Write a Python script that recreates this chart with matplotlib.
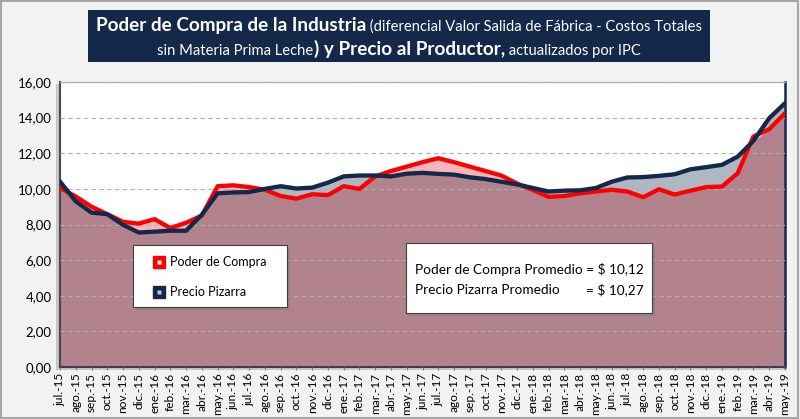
import matplotlib
matplotlib.use('Agg')
import matplotlib.pyplot as plt
import numpy as np
from matplotlib.patches import Rectangle
from matplotlib import font_manager

months = ['jul.-15', 'ago.-15', 'sep.-15', 'oct.-15', 'nov.-15', 'dic.-15',
          'ene.-16', 'feb.-16', 'mar.-16', 'abr.-16', 'may.-16', 'jun.-16',
          'jul.-16', 'ago.-16', 'sep.-16', 'oct.-16', 'nov.-16', 'dic.-16',
          'ene.-17', 'feb.-17', 'mar.-17', 'abr.-17', 'may.-17', 'jun.-17',
          'jul.-17', 'ago.-17', 'sep.-17', 'oct.-17', 'nov.-17', 'dic.-17',
          'ene.-18', 'feb.-18', 'mar.-18', 'abr.-18', 'may.-18', 'jun.-18',
          'jul.-18', 'ago.-18', 'sep.-18', 'oct.-18', 'nov.-18', 'dic.-18',
          'ene.-19', 'feb.-19', 'mar.-19', 'abr.-19', 'may.-19']

poder_compra = [10.05, 9.57, 9.00, 8.58, 8.15, 8.05, 8.30, 7.80, 8.10, 8.50,
                10.15, 10.20, 10.10, 9.95, 9.60, 9.45, 9.70, 9.65, 10.15, 10.00,
                10.70, 11.00, 11.25, 11.50, 11.72, 11.50, 11.25, 11.00, 10.75, 10.30,
                9.94, 9.55, 9.60, 9.75, 9.85, 9.95, 9.85, 9.53, 9.98, 9.68,
                9.90, 10.10, 10.13, 10.88, 12.94, 13.35, 14.25]

precio_pizarra = [10.41, 9.30, 8.67, 8.58, 7.98, 7.55, 7.60, 7.65, 7.65, 8.55,
                  9.75, 9.80, 9.82, 10.00, 10.15, 10.02, 10.07, 10.35, 10.70, 10.75,
                  10.75, 10.70, 10.85, 10.90, 10.84, 10.80, 10.65, 10.55, 10.40, 10.25,
                  10.05, 9.85, 9.90, 9.92, 10.05, 10.40, 10.64, 10.66, 10.73, 10.82,
                  11.10, 11.22, 11.35, 11.81, 12.70, 13.97, 14.81]

y_ticks = [0, 2, 4, 6, 8, 10, 12, 14, 16]

title_l1 = [("Poder de Compra de la Industria", 1.0, 'bold'),
            (" (diferencial Valor Salida de Fábrica - Costos Totales", 0.78, 'normal')]
title_l2 = [("sin Materia Prima Leche", 0.78, 'normal'),
            (") y Precio al Productor,", 1.0, 'bold'),
            (" actualizados por IPC", 0.78, 'normal')]

avail = {f.name for f in font_manager.fontManager.ttflist}
FONT = 'Lato' if 'Lato' in avail else 'DejaVu Sans'
plt.rcParams['font.family'] = [FONT, 'DejaVu Sans']

W, H = 800, 419
fig = plt.figure(figsize=(W / 100, H / 100), dpi=100, facecolor='#F2F2F2')

def fx(px):
    return px / W

def fy(py):
    return 1 - py / H

# outer border
fig.patches.append(Rectangle((0.001, 0.002), 0.997, 0.995, transform=fig.transFigure,
                             fill=False, edgecolor='#A6A6A6', lw=1.5, zorder=10))

# plot area shadow (left / bottom)
fig.patches.append(Rectangle((fx(56), fy(370)), fx(785) - fx(56), (370 - 84) / H,
                             transform=fig.transFigure, facecolor='#C4C9C4',
                             edgecolor='none', zorder=-1))

ax = fig.add_axes([fx(60), fy(367), fx(785) - fx(60), fy(82) - fy(367)])
ax.set_zorder(1)
ax.set_facecolor('white')
x = np.arange(len(months))
p = np.array(poder_compra)
q = np.array(precio_pizarra)
lo = np.minimum(p, q)
ax.fill_between(x, 0, lo, color='#B3838D', lw=0, zorder=1)
ax.fill_between(x, q, p, where=p >= q, interpolate=True, color='#F5B5BA', lw=0, zorder=1)
ax.fill_between(x, p, q, where=q >= p, interpolate=True, color='#AEB8C3', lw=0, zorder=1)
ax.plot(x, p, color='#FF0000', lw=3.1, zorder=3, solid_joinstyle='round')
ax.plot(x, q, color='#13294B', lw=3.1, zorder=4, solid_joinstyle='round')

ax.set_xlim(0, len(months) - 1)
ax.set_ylim(0, 16)
ax.set_yticks(y_ticks)
ax.set_yticklabels([f'{v:.2f}'.replace('.', ',') for v in y_ticks], fontsize=9.5)
ax.set_xticks(x)
ax.set_xticklabels(months, rotation=90, fontsize=8.6)
ax.tick_params(axis='x', length=2, pad=2, color='#808080')
ax.tick_params(axis='y', length=0, pad=6)
ax.yaxis.grid(True, ls=(0, (4, 3)), color='#B0B0B0', lw=0.8, zorder=2)
ax.set_axisbelow(False)
for t in ax.get_ygridlines():
    t.set_zorder(2)
ax.spines['left'].set_color('#4A4A4A')
ax.spines['left'].set_linewidth(1.5)
ax.spines['bottom'].set_color('#3A3A50')
ax.spines['bottom'].set_linewidth(1.5)
ax.spines['top'].set_color('#A0A0A0')
ax.spines['top'].set_linewidth(0.8)
ax.spines['right'].set_color('#13294B')
ax.spines['right'].set_linewidth(1.8)

# title box
fig.patches.append(Rectangle((fx(88), fy(62)), fx(710) - fx(88), fy(10) - fy(62),
                             transform=fig.transFigure, facecolor='#14284A',
                             edgecolor='none', zorder=5))

renderer = fig.canvas.get_renderer()

def rich_line(pieces, base_size, cy_base, target_w=None):
    texts = []
    for s, rel, wt in pieces:
        t = fig.text(0, fy(cy_base), s, fontsize=base_size * rel, fontweight=wt,
                     color='white', va='baseline', ha='left', zorder=6)
        texts.append(t)
    widths = [t.get_window_extent(renderer).width for t in texts]
    total = sum(widths)
    if target_w is not None:
        k = target_w / total
        for t, (s, rel, wt) in zip(texts, pieces):
            t.set_fontsize(base_size * rel * k)
        widths = [t.get_window_extent(renderer).width for t in texts]
        total = sum(widths)
    x0 = 399 - total / 2
    for t, w in zip(texts, widths):
        t.set_x(fx(x0))
        x0 += w
    return texts

l1 = rich_line(title_l1, 14, 31, target_w=606)
size1 = l1[0].get_fontsize()
rich_line(title_l2, size1, 55)

# legend box
fig.patches.append(Rectangle((fx(136), fy(310)), fx(287) - fx(133), fy(245) - fy(307),
                             transform=fig.transFigure, facecolor='#808080',
                             edgecolor='none', alpha=0.6, zorder=5))
fig.patches.append(Rectangle((fx(133), fy(307)), fx(287) - fx(133), fy(245) - fy(307),
                             transform=fig.transFigure, facecolor='white',
                             edgecolor='#404040', lw=0.8, zorder=6))
for yy, col, lab in [(262, '#FF0000', 'Poder de Compra'), (292, '#13294B', 'Precio Pizarra')]:
    fig.lines.append(plt.Line2D([fx(159)], [fy(yy)], marker='s', markersize=8,
                                markerfacecolor=col, markeredgecolor=col,
                                transform=fig.transFigure, zorder=7))
    fig.lines.append(plt.Line2D([fx(159)], [fy(yy)], marker='s', markersize=2.5,
                                markerfacecolor='white' if col == '#FF0000' else '#C0C8D8',
                                markeredgecolor='none',
                                transform=fig.transFigure, zorder=8))
    fig.text(fx(170), fy(yy), lab, fontsize=9, va='center', ha='left', zorder=8)

# stats box
fig.patches.append(Rectangle((fx(409), fy(316)), fx(652) - fx(406), fy(243) - fy(313),
                             transform=fig.transFigure, facecolor='#808080',
                             edgecolor='none', alpha=0.6, zorder=5))
fig.patches.append(Rectangle((fx(406), fy(313)), fx(652) - fx(406), fy(243) - fy(313),
                             transform=fig.transFigure, facecolor='white',
                             edgecolor='#404040', lw=0.8, zorder=6))
s1 = fig.text(fx(415), fy(270), 'Poder de Compra Promedio = $ 10,12', fontsize=9.8,
              va='center', ha='left', zorder=8)
bb = s1.get_window_extent(renderer)
fig.text(fx(415), fy(290), 'Precio Pizarra Promedio', fontsize=9.8,
         va='center', ha='left', zorder=8)
fig.text(bb.x1 / W, fy(290), '= $ 10,27', fontsize=9.8, va='center', ha='right', zorder=8)

fig.savefig('out.png', dpi=100, facecolor=fig.get_facecolor())
